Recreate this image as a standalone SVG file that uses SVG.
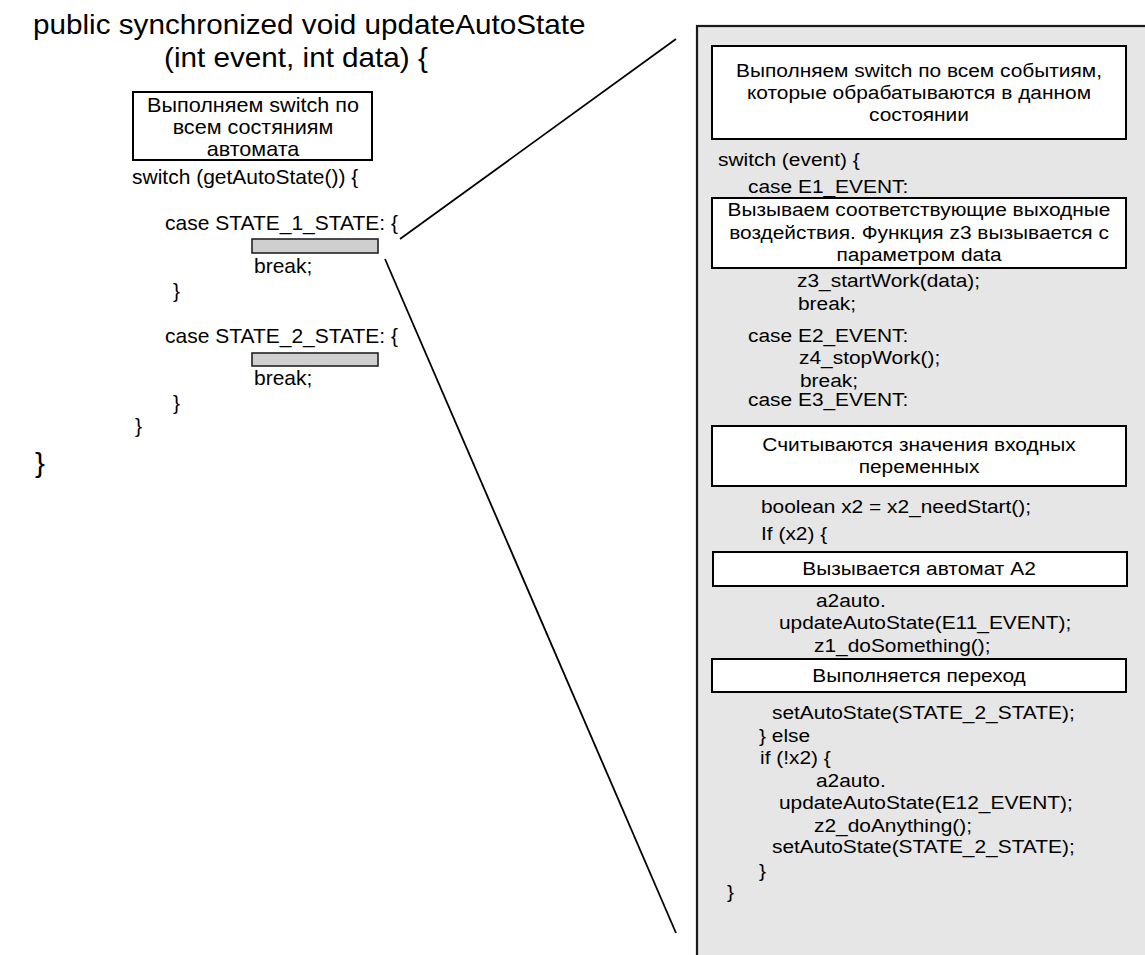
<svg xmlns="http://www.w3.org/2000/svg" width="1145" height="955" viewBox="0 0 1145 955">
<style>
text { font-family: "Liberation Sans", Arial, sans-serif; fill: #000; }
.t { font-size: 28px; }
.c { font-size: 20px; }
.p { font-size: 19px; }
.m { text-anchor: middle; }
.box { fill: #fff; stroke: #000; stroke-width: 2; }
.bar { fill: #cfcfcf; stroke: #222; stroke-width: 1.6; }
.panel { fill: #e6e6e6; stroke: #1a1a1a; stroke-width: 2.2; }
.conn { stroke: #000; stroke-width: 1.8; fill: none; }
</style>

<g id="title">
  <text class="t" transform="translate(33,34) scale(1.06,1)">public synchronized void updateAutoState</text>
  <text class="t" transform="translate(164,67) scale(1.06,1)">(int event, int data) {</text>
  <text class="t" transform="translate(35,472) scale(1.06,1)">}</text>
</g>

<g id="left-box">
  <rect class="box" x="133" y="92" width="239" height="68"/>
  <text class="c m" transform="translate(253,112) scale(1.08,1)">Выполняем switch по</text>
  <text class="c m" transform="translate(253,134) scale(1.08,1)">всем состяниям</text>
  <text class="c m" transform="translate(253,156) scale(1.08,1)">автомата</text>
</g>

<g id="left-code">
  <text class="c" transform="translate(132,184) scale(1.05,1)">switch (getAutoState()) {</text>
  <text class="c" transform="translate(165,230) scale(1.05,1)">case STATE_1_STATE: {</text>
  <rect class="bar" x="252" y="239" width="126" height="14"/>
  <text class="c" transform="translate(254,273) scale(1.05,1)">break;</text>
  <text class="c" transform="translate(173,298) scale(1.05,1)">}</text>
  <text class="c" transform="translate(165,343) scale(1.05,1)">case STATE_2_STATE: {</text>
  <rect class="bar" x="252" y="353" width="126" height="13"/>
  <text class="c" transform="translate(254,385) scale(1.05,1)">break;</text>
  <text class="c" transform="translate(173,410) scale(1.05,1)">}</text>
  <text class="c" transform="translate(135,433) scale(1.05,1)">}</text>
</g>

<g id="connectors">
  <line class="conn" x1="400" y1="239" x2="676" y2="39"/>
  <line class="conn" x1="385" y1="259" x2="676" y2="933"/>
</g>

<g id="panel">
  <rect class="panel" x="697" y="26" width="460" height="945"/>
</g>

<g id="box-events">
  <rect class="box" x="712" y="46" width="414" height="93"/>
  <text class="p m" transform="translate(919,77) scale(1.1,1)">Выполняем switch по всем событиям,</text>
  <text class="p m" transform="translate(919,99) scale(1.1,1)">которые обрабатываются в данном</text>
  <text class="p m" transform="translate(919,121) scale(1.1,1)">состоянии</text>
</g>

<g id="code-1">
  <text class="p" transform="translate(718,166) scale(1.1,1)">switch (event) {</text>
  <text class="p" transform="translate(748,193) scale(1.1,1)">case E1_EVENT:</text>
</g>

<g id="box-outputs">
  <rect class="box" x="712" y="198" width="414" height="70"/>
  <text class="p m" transform="translate(919,216) scale(1.1,1)">Вызываем соответствующие выходные</text>
  <text class="p m" transform="translate(919,239) scale(1.1,1)">воздействия. Функция z3 вызывается с</text>
  <text class="p m" transform="translate(919,261) scale(1.1,1)">параметром data</text>
</g>

<g id="code-2">
  <text class="p" transform="translate(797,287) scale(1.1,1)">z3_startWork(data);</text>
  <text class="p" transform="translate(798,310) scale(1.1,1)">break;</text>
  <text class="p" transform="translate(748,342) scale(1.1,1)">case E2_EVENT:</text>
  <text class="p" transform="translate(799,364) scale(1.1,1)">z4_stopWork();</text>
  <text class="p" transform="translate(800,387) scale(1.1,1)">break;</text>
  <text class="p" transform="translate(748,406) scale(1.1,1)">case E3_EVENT:</text>
</g>

<g id="box-inputs">
  <rect class="box" x="712" y="426" width="414" height="60"/>
  <text class="p m" transform="translate(919,451) scale(1.1,1)">Считываются значения входных</text>
  <text class="p m" transform="translate(919,473) scale(1.1,1)">переменных</text>
</g>

<g id="code-3">
  <text class="p" transform="translate(761,513) scale(1.1,1)">boolean x2 = x2_needStart();</text>
  <text class="p" transform="translate(761,540) scale(1.1,1)">If (x2) {</text>
</g>

<g id="box-a2">
  <rect class="box" x="713" y="552" width="414" height="34"/>
  <text class="p m" transform="translate(919,575) scale(1.1,1)">Вызывается автомат А2</text>
</g>

<g id="code-4">
  <text class="p" transform="translate(816,607) scale(1.1,1)">a2auto.</text>
  <text class="p" transform="translate(779,629) scale(1.1,1)">updateAutoState(E11_EVENT);</text>
  <text class="p" transform="translate(814,652) scale(1.1,1)">z1_doSomething();</text>
</g>

<g id="box-transition">
  <rect class="box" x="712" y="659" width="414" height="33"/>
  <text class="p m" transform="translate(919,682) scale(1.1,1)">Выполняется переход</text>
</g>

<g id="code-5">
  <text class="p" transform="translate(772,719) scale(1.1,1)">setAutoState(STATE_2_STATE);</text>
  <text class="p" transform="translate(759,742) scale(1.1,1)">} else</text>
  <text class="p" transform="translate(760,764) scale(1.1,1)">if (!x2) {</text>
  <text class="p" transform="translate(816,787) scale(1.1,1)">a2auto.</text>
  <text class="p" transform="translate(779,809) scale(1.1,1)">updateAutoState(E12_EVENT);</text>
  <text class="p" transform="translate(814,832) scale(1.1,1)">z2_doAnything();</text>
  <text class="p" transform="translate(772,853) scale(1.1,1)">setAutoState(STATE_2_STATE);</text>
  <text class="p" transform="translate(759,877) scale(1.1,1)">}</text>
  <text class="p" transform="translate(727,898) scale(1.1,1)">}</text>
</g>
</svg>
